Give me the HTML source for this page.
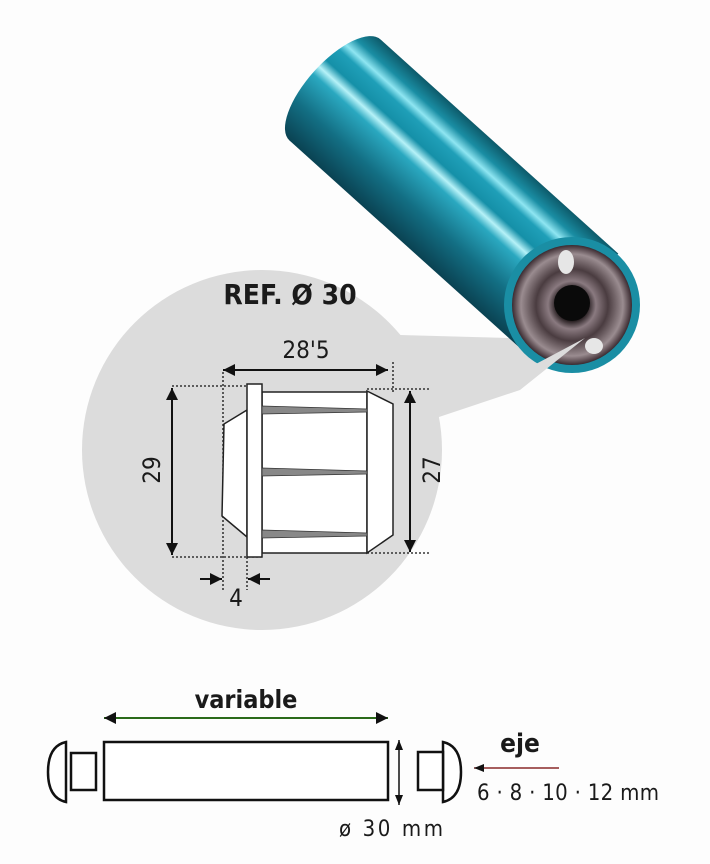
<!DOCTYPE html>
<html><head><meta charset="utf-8"><style>
html,body{margin:0;padding:0;background:#fdfdfd;}
svg{display:block}
text{font-family:"DejaVu Sans Condensed","Liberation Sans",sans-serif;fill:#1a1a1a}
</style></head><body>
<svg width="710" height="864" viewBox="0 0 710 864" xmlns="http://www.w3.org/2000/svg">
<defs>
<linearGradient id="cyl" x1="0" y1="-68" x2="0" y2="68" gradientUnits="userSpaceOnUse">
<stop offset="0" stop-color="#0d5a6a"/>
<stop offset="0.12" stop-color="#1a8ea4"/>
<stop offset="0.2" stop-color="#8fe6f2"/>
<stop offset="0.26" stop-color="#1f9fb8"/>
<stop offset="0.38" stop-color="#1590a8"/>
<stop offset="0.45" stop-color="#b6f2f8"/>
<stop offset="0.52" stop-color="#2aa8c0"/>
<stop offset="0.75" stop-color="#136f84"/>
<stop offset="1" stop-color="#0a4252"/>
</linearGradient>
<radialGradient id="endg" cx="0.5" cy="0.5" r="0.5">
<stop offset="0.25" stop-color="#1a1214"/>
<stop offset="0.4" stop-color="#8a7a80"/>
<stop offset="0.6" stop-color="#4a3c40"/>
<stop offset="0.85" stop-color="#9a8c90"/>
<stop offset="1" stop-color="#3a2a30"/>
</radialGradient>
<marker id="ah" viewBox="0 0 10 10" refX="10" refY="5" markerWidth="10" markerHeight="10" markerUnits="userSpaceOnUse" orient="auto-start-reverse"><path d="M0,1 L10,5 L0,9 Z" fill="#111"/></marker>
<marker id="ah2" viewBox="0 0 10 10" refX="10" refY="5" markerWidth="14" markerHeight="12" markerUnits="userSpaceOnUse" orient="auto-start-reverse"><path d="M0,0 L10,5 L0,10 Z" fill="#111"/></marker>
</defs>

<path d="M262,270 A180,180 0 1 1 262,630 A180,180 0 1 1 262,270 Z" fill="#dcdcdc"/>
<path d="M400,335 L585,340 L430,420 Z" fill="#dcdcdc"/>

<g transform="translate(335,90) rotate(42)">
<rect x="0" y="-68" width="320" height="136" fill="url(#cyl)"/>
<ellipse cx="0" cy="0" rx="28" ry="68" fill="url(#cyl)"/>
</g>
<circle cx="572" cy="305" r="68" fill="#1a8ea4"/>
<circle cx="572" cy="305" r="60" fill="url(#endg)"/>
<circle cx="572" cy="303" r="18" fill="#0a0a0a"/>
<ellipse cx="566" cy="262" rx="8" ry="12" fill="#e6e6e6"/>
<ellipse cx="594" cy="346" rx="9" ry="8" fill="#e6e6e6"/>
<path d="M430,420 L585,338 L520,390 Z" fill="#dcdcdc"/>

<text x="290" y="304" font-size="28" font-weight="bold" text-anchor="middle">REF. Ø 30</text>
<text x="306" y="358" font-size="24" text-anchor="middle">28'5</text>
<g stroke="#111" stroke-width="1.3" fill="none">
<line x1="223" y1="370" x2="388" y2="370" marker-start="url(#ah2)" marker-end="url(#ah2)" stroke-width="2"/>
<g stroke-dasharray="2,2">
<line x1="223" y1="372" x2="223" y2="590"/>
<line x1="247" y1="557" x2="247" y2="590"/>
<line x1="393" y1="362" x2="393" y2="392"/>
<line x1="172" y1="386" x2="247" y2="386"/>
<line x1="172" y1="557" x2="262" y2="557"/>
<line x1="367" y1="389" x2="430" y2="389"/>
<line x1="367" y1="553" x2="430" y2="553"/>
</g>
<line x1="172" y1="388" x2="172" y2="555" marker-start="url(#ah2)" marker-end="url(#ah2)" stroke-width="2"/>
<line x1="410" y1="391" x2="410" y2="552" marker-start="url(#ah2)" marker-end="url(#ah2)" stroke-width="2"/>
<line x1="200" y1="579" x2="222" y2="579" marker-end="url(#ah2)" stroke-width="2"/>
<line x1="270" y1="579" x2="248" y2="579" marker-end="url(#ah2)" stroke-width="2"/>
</g>
<g stroke="#222" stroke-width="1.5" fill="#fff">
<polygon points="247,410 224,424 222,516 247,537"/>
<rect x="262" y="392" width="105" height="161"/>
<polygon points="367,391 393,404 393,535 367,553"/>
<rect x="247" y="384" width="15" height="173"/>
</g>
<g fill="#888" stroke="#333" stroke-width="0.8">
<polygon points="262,406 367,409 367,412 262,414"/>
<polygon points="262,468 367,471 367,474 262,476"/>
<polygon points="262,530 367,533 367,536 262,538"/>
</g>
<text font-size="24" text-anchor="middle" transform="translate(160,470) rotate(-90)">29</text>
<text font-size="24" text-anchor="middle" transform="translate(440,470) rotate(-90)">27</text>
<text x="236" y="606" font-size="24" text-anchor="middle">4</text>

<!-- bottom -->
<text x="246" y="708" font-size="25" font-weight="bold" text-anchor="middle">variable</text>
<line x1="104" y1="718" x2="388" y2="718" stroke="#2a6a1a" stroke-width="2" marker-start="url(#ah2)" marker-end="url(#ah2)"/>
<rect x="104" y="742" width="284" height="58" fill="#fff" stroke="#111" stroke-width="2.5"/>
<line x1="399" y1="740" x2="399" y2="805" stroke="#111" stroke-width="1.5" marker-start="url(#ah)" marker-end="url(#ah)"/>
<g stroke="#111" stroke-width="2.5" fill="#fff">
<path d="M66,742 Q48,746 48,772 Q48,798 66,802 Z"/>
<rect x="71" y="753" width="25" height="37"/>
<path d="M443,742 Q461,746 461,772 Q461,798 443,802 Z"/>
<rect x="418" y="752" width="25" height="38"/>
</g>
<text x="520" y="752" font-size="26" font-weight="bold" text-anchor="middle">eje</text>
<line x1="559" y1="768" x2="474" y2="768" stroke="#8a2a2a" stroke-width="1.5" marker-end="url(#ah)"/>
<text x="477" y="800" font-size="22" textLength="182" lengthAdjust="spacing">6 · 8 · 10 · 12 mm</text>
<text x="339" y="836" font-size="22" textLength="104" lengthAdjust="spacing">ø 30 mm</text>
</svg>
</body></html>
